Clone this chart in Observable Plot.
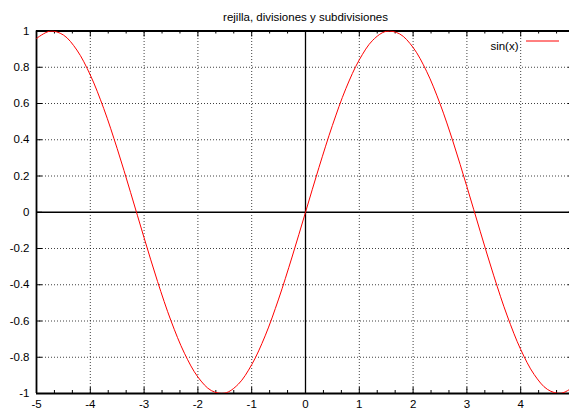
<!DOCTYPE html>
<html><head><meta charset="utf-8">
<script src="https://cdn.jsdelivr.net/npm/d3@7"></script>
<script src="https://cdn.jsdelivr.net/npm/@observablehq/plot@0.6"></script>
<style>body{margin:0;background:#fff}</style>
</head><body><div id="chart"></div>
<script>
const title = "rejilla, divisiones y subdivisiones";
const seriesName = "sin(x)";
const xs = [-5,-4.75,-4.5,-4.25,-4,-3.75,-3.5,-3.25,-3,-2.75,-2.5,-2.25,-2,-1.75,-1.5,-1.25,-1,-0.75,-0.5,-0.25,0,
            0.25,0.5,0.75,1,1.25,1.5,1.75,2,2.25,2.5,2.75,3,3.25,3.5,3.75,4,4.25,4.5,4.75,5];
const ys = [0.959,0.999,0.978,0.895,0.757,0.572,0.351,0.108,-0.141,-0.382,-0.599,-0.778,-0.909,-0.984,-0.998,-0.949,-0.841,-0.682,-0.479,-0.247,0,
            0.247,0.479,0.682,0.841,0.949,0.998,0.984,0.909,0.778,0.599,0.382,0.141,-0.108,-0.351,-0.572,-0.757,-0.895,-0.978,-0.999,-0.959];
const xTicks = [-5,-4,-3,-2,-1,0,1,2,3,4];
const xTickLabels = ["-5","-4","-3","-2","-1","0","1","2","3","4"];
const yTicks = [-1,-0.8,-0.6,-0.4,-0.2,0,0.2,0.4,0.6,0.8,1];
const yTickLabels = ["-1","-0.8","-0.6","-0.4","-0.2","0","0.2","0.4","0.6","0.8","1"];
const subdivisions = 3;

const data = xs.map((x, i) => ({x, y: ys[i]}));
const xMinor = xTicks.flatMap(t => d3.range(1, subdivisions).map(k => t + k / subdivisions));
const gridXs = xTicks.filter(t => t !== 0 && t !== -5);
const gridYs = yTicks.filter(t => t !== 0 && t !== -1 && t !== 1);

const W = 569, H = 412, mL = 36, mT = 30.5, mB = 19;
const pxY = 2 / (H - mT - mB);     // data units per px in y
const pxX = 10 / (574 - mL);       // data units per px in x
const major = 6, minor = 3;

const plot = Plot.plot({
  width: W, height: H,
  marginLeft: mL, marginRight: 0, marginTop: mT, marginBottom: mB,
  style: {fontFamily: "'Liberation Sans', Arial, sans-serif", fontSize: "11.5px", background: "#fff", color: "#000"},
  x: {domain: [-5, 5], range: [mL, 574], ticks: xTicks, tickSize: 0, tickPadding: 6,
      tickFormat: d => xTickLabels[xTicks.indexOf(d)], label: null},
  y: {domain: [-1, 1], ticks: yTicks, tickSize: 0, tickPadding: 7,
      tickFormat: d => yTickLabels[yTicks.indexOf(d)], label: null},
  marks: [
    Plot.ruleX(gridXs, {y1: -1, y2: 1, stroke: "#000", strokeOpacity: 0.75, strokeDasharray: "1,2"}),
    Plot.ruleY(gridYs, {x1: -5, x2: 5, stroke: "#000", strokeOpacity: 0.75, strokeDasharray: "1,2"}),
    Plot.ruleX([0], {y1: -1, y2: 1, stroke: "#000", strokeWidth: 1.3}),
    Plot.ruleY([0], {x1: -5, x2: 5, stroke: "#000", strokeWidth: 1.3}),
    Plot.ruleX(xTicks, {y1: -1, y2: -1 + major * pxY, stroke: "#000"}),
    Plot.ruleX(xTicks, {y1: 1, y2: 1 - major * pxY, stroke: "#000"}),
    Plot.ruleX(xMinor, {y1: -1, y2: -1 + minor * pxY, stroke: "#000"}),
    Plot.ruleX(xMinor, {y1: 1, y2: 1 - minor * pxY, stroke: "#000"}),
    Plot.ruleY(yTicks, {x1: -5, x2: -5 + major * pxX, stroke: "#000"}),
    Plot.ruleY(yTicks, {x1: 5, x2: 5 - major * pxX, stroke: "#000"}),
    Plot.ruleX([-5, 5], {y1: -1, y2: 1, stroke: "#000", strokeWidth: 1.8}),
    Plot.ruleY([-1, 1], {x1: -5, x2: 5, stroke: "#000", strokeWidth: 1.8}),
    Plot.line(data, {x: "x", y: "y", stroke: "#ff0000", strokeWidth: 1, curve: "catmull-rom", clip: true}),
    Plot.text([title], {x: () => 0, frameAnchor: "top", dy: -18, fontSize: 11.5, fill: "#000"}),
    Plot.text([seriesName], {frameAnchor: "top-right", dx: -51, dy: 11, textAnchor: "end", fontSize: 11.5, fill: "#000"})
  ]
});

d3.select(plot).append("line")
  .attr("x1", 526).attr("x2", 559).attr("y1", 41).attr("y2", 41)
  .attr("stroke", "#ff0000").attr("stroke-width", 1);

document.getElementById("chart").append(plot);
</script>
</body></html>
